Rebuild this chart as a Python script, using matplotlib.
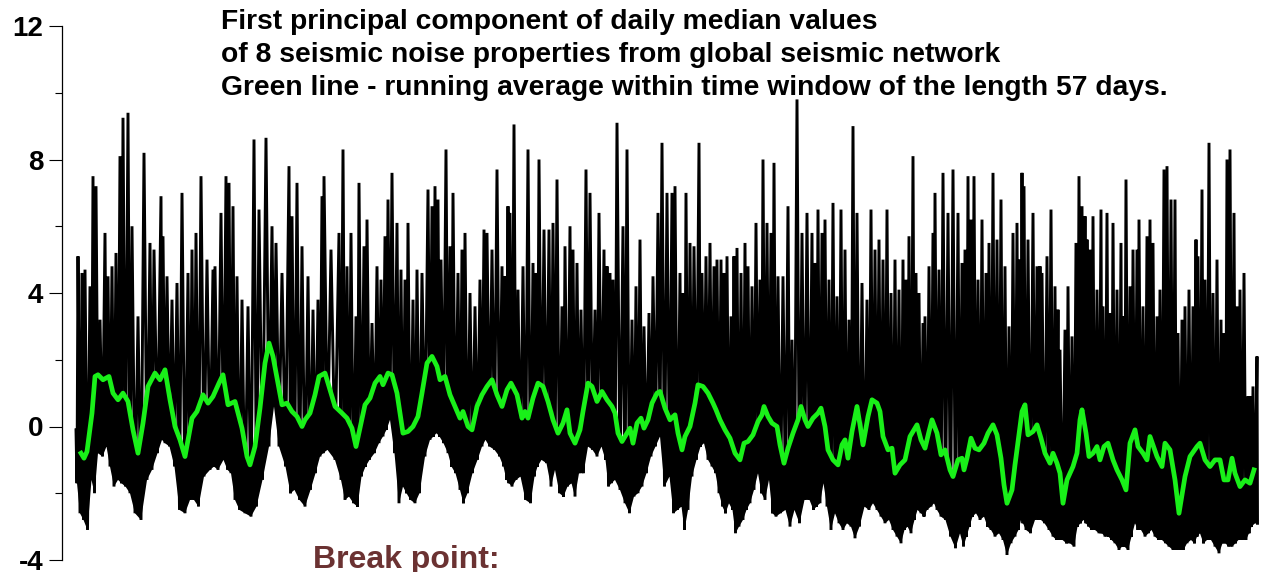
import numpy as np
import matplotlib
matplotlib.use("Agg")
import matplotlib.pyplot as plt
from matplotlib.ticker import MultipleLocator

plt.rcParams['font.family'] = ['Liberation Sans', 'DejaVu Sans']
plt.rcParams['font.weight'] = 'bold'
plt.rcParams['axes.unicode_minus'] = False

# daily PC1: for each spike, its top (hi) and the dip that follows (lo)
day = [0, 12, 36, 54, 84, 102, 120, 144, 174, 192, 216, 240, 264, 282, 312, 336, 372, 408, 444, 468,
       510, 522, 546, 576, 606, 636, 672, 696, 720, 750, 786, 822, 834, 870, 900, 918, 942, 966, 996, 1032,
       1068, 1098, 1140, 1176, 1200, 1236, 1278, 1296, 1326, 1356, 1392, 1422, 1452, 1476, 1488, 1530, 1578, 1602, 1626, 1650,
       1680, 1698, 1728, 1746, 1776, 1806, 1830, 1854, 1872,
       1896, 1926, 1950, 1974, 1992, 2022, 2046, 2076, 2112, 2136, 2154, 2172, 2190, 2220, 2244, 2262, 2292, 2316, 2334, 2364,
       2394, 2424, 2448, 2466, 2496, 2526, 2556, 2574, 2592, 2604, 2628, 2652, 2682, 2712, 2742, 2760, 2778, 2808, 2838,
       2862, 2886, 2916, 2934, 2964, 2982, 3006, 3030, 3060, 3084, 3114, 3138, 3168, 3186, 3204, 3222, 3246, 3282, 3306, 3336,
       3360, 3384, 3408, 3438, 3462, 3492, 3516, 3546, 3576, 3594, 3624, 3642, 3660, 3684, 3708, 3738, 3756, 3780, 3804, 3828, 3846,
       3870, 3888, 3906, 3930, 3948, 3966, 3990, 4014, 4032, 4056, 4080, 4104, 4122, 4146, 4170, 4188, 4212, 4242, 4272, 4296,
       4326, 4356, 4386, 4416, 4434, 4452, 4476, 4494, 4518, 4542, 4566, 4590, 4614, 4638, 4662, 4686, 4716, 4746, 4770, 4794, 4818, 4842,
       4866, 4890, 4914, 4938, 4962, 4980, 4998, 5022, 5040, 5058, 5082, 5094, 5118, 5142, 5154, 5178, 5202, 5232, 5262, 5292,
       5316, 5334, 5352, 5370, 5388, 5412, 5436, 5460, 5478, 5502, 5526, 5550, 5574, 5598, 5622, 5646, 5664, 5676, 5688, 5712,
       5742, 5766, 5784, 5796, 5826, 5850,
       5874, 5892, 5904, 5934, 5952, 5976, 6000, 6018, 6036, 6054, 6066, 6084, 6102, 6126, 6150, 6162, 6186, 6204, 6222, 6246,
       6270, 6282, 6300, 6324, 6342, 6366, 6378, 6402, 6426, 6444, 6462, 6486, 6504, 6528, 6546, 6570, 6594, 6612, 6636, 6654,
       6678, 6702, 6720, 6732, 6756, 6774, 6798, 6822, 6846, 6870, 6888, 6906, 6924, 6948, 6966, 6984, 7008, 7032, 7044, 7062, 7086]

hi = [-0.1, 5.1, 4.6, 4.7, 4.2, 7.5, 7.2, 3.2, 5.8, 4.5, 4.8, 5.2, 8.1, 9.25, 9.4, 6.0, 3.3, 8.2, 5.5, 5.3,
      6.9, 5.7, 4.5, 3.8, 4.3, 7.0, 4.6, 5.3, 5.8, 7.5, 5.0, 4.7, 4.8, 6.4, 7.5, 7.3, 6.6, 4.5, 3.8, 3.6,
      8.6, 6.5, 8.65, 6.0, 5.5, 4.6, 7.8, 6.3, 7.3, 5.4, 4.5, 3.5, 3.8, 6.9, 7.5, 5.3, 5.8, 8.3, 4.8, 5.8,
      3.3, 7.3, 5.4, 6.2, 3.1, 4.8, 4.4, 5.7, 6.8,
      7.6, 6.1, 4.7, 4.4, 6.1, 3.8, 4.7, 4.6, 7.1, 6.6, 7.2, 6.8, 5.0, 8.3, 5.4, 7.0, 4.6, 5.3, 5.8, 4.0,
      3.6, 4.4, 5.9, 5.8, 5.3, 7.7, 4.8, 4.5, 6.6, 6.4, 9.05, 4.1, 4.8, 8.3, 4.9, 4.6, 8.0, 5.9, 5.9,
      6.1, 7.4, 3.6, 5.4, 6.0, 5.3, 4.9, 3.5, 7.7, 7.0, 3.5, 6.4, 5.3, 4.8, 4.6, 4.4, 9.1, 6.0, 8.3, 3.2,
      4.2, 5.6, 3.0, 3.4, 4.5, 6.4, 8.5, 7.0, 7.0, 7.2, 4.6, 4.0, 7.0, 5.5, 5.4, 8.5, 4.6, 5.1, 5.5, 4.8, 5.0,
      5.0, 4.6, 5.1, 3.3, 5.1, 5.35, 4.6, 5.5, 4.8, 4.2, 6.1, 4.4, 8.0, 6.1, 5.8, 7.9, 4.5, 4.5, 6.6, 2.6,
      9.8, 5.8, 6.4, 5.8, 4.9, 6.5, 5.8, 6.2, 4.4, 6.7, 3.9, 6.5, 5.3, 3.2, 9.0, 6.4, 4.3, 3.8, 6.5, 5.3, 5.6, 5.0,
      6.5, 4.0, 5.0, 4.1, 5.0, 4.4, 5.7, 8.1, 4.6, 4.0, 3.1, 3.3, 4.8, 5.8, 7.0, 4.7, 7.6, 6.4, 7.7, 6.4,
      4.9, 5.3, 7.5, 6.2, 7.5, 4.4, 6.2, 4.6, 5.5, 7.6, 5.6, 6.8, 4.8, 3.0, 5.8, 6.1, 5.0, 7.6, 7.2, 5.6,
      6.4, 4.8, 4.8, 4.6, 5.1, 6.5,
      4.2, 3.5, 2.3, 2.9, 4.2, 2.7, 5.5, 7.5, 6.6, 6.3, 5.6, 5.3, 6.3, 4.1, 6.5, 3.6, 6.4, 3.4, 6.1, 4.1,
      5.5, 3.3, 7.4, 4.2, 5.3, 5.3, 6.2, 3.6, 5.7, 6.2, 5.5, 3.3, 4.1, 7.7, 7.8, 6.8, 6.8, 2.8, 3.2, 3.6,
      4.1, 3.6, 5.6, 5.1, 7.1, 4.4, 8.5, 4.0, 5.0, 3.2, 2.8, 8.0, 8.3, 6.4, 3.6, 4.1, 4.6, 0.9, 0.9, 1.2, 2.1]

lo = [-1.7, -2.6, -2.8, -3.1, -1.6, -2.0, -0.8, -0.9, -0.6, -1.2, -1.8, -1.6, -1.7, -1.8, -2.0, -2.6, -2.8, -1.6, -1.3, -0.8,
      -0.4, -0.5, -0.6, -1.2, -2.5, -2.6, -2.2, -2.2, -2.4, -1.5, -1.3, -1.2, -1.3, -1.0, -1.3, -1.4, -2.2, -2.5, -2.6, -2.7,
      -2.4, -1.6, -0.6, 0.6, -0.6, -1.2, -2.0, -1.9, -2.2, -2.4, -1.9, -1.4, -0.9, -0.8, -0.7, -1.0, -1.6, -2.2, -2.1, -2.3,
      -2.4, -1.5, -1.2, -1.0, -0.8, -0.5, -0.3, -0.1, 0.2,
      -0.8, -2.3, -1.8, -2.0, -2.2, -2.3, -2.0, -0.9, -0.4, -0.3, -0.2, -0.3, -0.5, -0.8, -1.2, -1.4, -1.9, -2.3, -2.0, -1.4,
      -1.0, -0.6, -0.4, -0.6, -0.7, -0.9, -1.2, -1.6, -1.7, -1.8, -1.6, -1.5, -2.2, -2.3, -1.5, -1.2, -1.0, -1.1, -1.8,
      -1.3, -2.0, -2.1, -1.8, -1.7, -2.1, -1.4, -1.4, -0.6, -0.7, -0.9, -0.6, -1.0, -1.8, -1.7, -1.6, -1.9, -2.3, -2.6, -2.1,
      -2.0, -1.8, -1.4, -0.9, -0.6, -0.3, -1.8, -1.5, -2.6, -2.5, -2.4, -3.1, -2.5, -1.5, -1.0, -0.6, -0.5, -1.0, -1.2, -1.4, -2.0,
      -2.4, -2.6, -2.3, -2.5, -3.2, -3.0, -2.8, -2.5, -2.3, -1.9, -1.4, -2.0, -2.2, -1.6, -2.6, -2.7, -2.6, -2.5, -3.0, -2.5,
      -2.9, -2.2, -2.2, -2.5, -2.4, -2.3, -1.7, -2.4, -3.1, -2.6, -2.9, -3.1, -2.9, -3.0, -3.35, -3.0, -2.4, -2.5, -2.3, -2.5, -2.7, -2.9,
      -2.8, -3.1, -3.3, -3.5, -3.1, -3.0, -3.2, -2.8, -2.5, -2.6, -2.7, -2.5, -2.4, -2.3, -2.5, -2.7, -2.8, -3.3, -3.65, -3.2,
      -3.6, -3.3, -3.0, -2.7, -2.6, -2.8, -2.7, -3.0, -3.1, -3.3, -3.2, -3.4, -3.85, -3.5, -3.3, -3.1, -2.8, -2.9, -3.1, -3.2,
      -2.8, -2.8, -2.8, -2.9, -3.1, -3.3,
      -3.4, -3.4, -3.4, -3.5, -3.5, -3.6, -3.0, -2.9, -2.8, -2.9, -3.0, -3.1, -3.1, -3.2, -3.2, -3.3, -3.3, -3.4, -3.5, -3.7,
      -3.6, -3.6, -3.7, -3.3, -2.9, -3.1, -3.1, -3.3, -3.2, -3.1, -3.3, -3.4, -3.4, -3.5, -3.6, -3.7, -3.7, -3.7, -3.7, -3.5,
      -3.4, -3.5, -3.3, -3.2, -3.5, -3.4, -3.4, -3.6, -3.8, -3.5, -3.5, -3.6, -3.6, -3.5, -3.4, -3.4, -3.4, -3.2, -3.0, -2.9, -2.9]

# 57-day running average (green)
avg_day = [30, 48, 66, 96, 114, 132, 162, 198, 222, 252, 282, 312, 342, 372, 402, 432, 474, 504, 534, 564,
           594, 624, 654, 696, 726, 762, 792, 822, 858, 882, 912, 954, 996, 1026, 1044, 1074, 1104, 1134, 1158, 1182,
           1212, 1236, 1266, 1296, 1326, 1356, 1374, 1404, 1434, 1458, 1494, 1524, 1554, 1596, 1626, 1656, 1680, 1704, 1734, 1764,
           1794, 1824, 1842, 1872,
           1896, 1926, 1944, 1962, 1992, 2022, 2052, 2076, 2106, 2136, 2166, 2184, 2214, 2244, 2274, 2304, 2322, 2352, 2376, 2406,
           2436, 2466, 2496, 2526, 2556, 2586, 2610, 2646, 2676, 2694, 2712, 2742, 2772, 2802, 2832,
           2862, 2892, 2922, 2946, 2964, 2994, 3024, 3042, 3072, 3096, 3126, 3156, 3186, 3216, 3234, 3252, 3276, 3306, 3324, 3342,
           3366, 3390, 3408, 3432, 3456, 3486, 3504, 3534, 3564, 3594, 3612, 3636, 3654, 3684, 3714, 3732, 3762, 3792, 3822, 3840, 3864,
           3894, 3924, 3954, 3984, 4008, 4032, 4062, 4092, 4116, 4128, 4152, 4176, 4206, 4224, 4248, 4272, 4302, 4332, 4350, 4374,
           4392, 4422, 4452, 4470, 4494, 4512, 4542, 4572, 4596, 4614, 4632, 4656, 4686, 4704, 4722, 4752, 4776, 4806, 4824, 4842,
           4872, 4896, 4914, 4944, 4974, 5004, 5022, 5046, 5070, 5094, 5118, 5136, 5166, 5190, 5214, 5244, 5262, 5292, 5316, 5328,
           5346, 5370, 5394, 5418, 5448, 5472, 5502, 5526, 5550, 5568, 5586, 5616, 5634, 5658, 5676, 5694, 5712, 5742, 5766, 5790,
           5814, 5844, 5862,
           5886, 5904, 5922, 5946, 5964, 5982, 6006, 6024, 6036, 6060, 6078, 6102, 6126, 6144, 6168, 6192, 6222, 6246, 6276, 6300,
           6324, 6354, 6372, 6402, 6426, 6444, 6486, 6516, 6534, 6564, 6594, 6618, 6654, 6684, 6726, 6744, 6774, 6804, 6834, 6864,
           6888, 6912, 6936, 6954, 6984, 7014, 7044, 7068]

avg = [-0.8, -0.95, -0.75, 0.4, 1.5, 1.55, 1.4, 1.5, 1.0, 0.8, 1.0, 0.75, -0.1, -0.8, 0.1, 1.2, 1.6, 1.4, 1.7, 0.8,
       0.0, -0.4, -0.9, 0.25, 0.45, 0.95, 0.7, 0.9, 1.3, 1.55, 0.65, 0.75, -0.05, -0.9, -1.15, -0.6, 0.55, 1.9, 2.5, 2.1,
       1.3, 0.65, 0.7, 0.45, 0.3, 0.0, 0.2, 0.4, 0.95, 1.5, 1.6, 1.1, 0.6, 0.4, 0.25, -0.05, -0.6, -0.05, 0.65, 0.85,
       1.3, 1.5, 1.25, 1.6,
       1.55, 1.0, 0.4, -0.2, -0.15, 0.0, 0.3, 1.0, 1.9, 2.1, 1.8, 1.4, 1.5, 0.95, 0.6, 0.25, 0.45, 0.0, -0.1, 0.6,
       0.95, 1.2, 1.4, 0.95, 0.6, 1.1, 1.3, 0.95, 0.25, 0.45, 0.25, 0.85, 1.3, 1.2, 0.75,
       0.2, -0.2, 0.1, 0.5, -0.2, -0.5, -0.1, 0.45, 1.3, 1.2, 0.75, 1.05, 0.8, 0.6, 0.4, -0.2, -0.45, -0.2, -0.05, -0.5,
       0.1, 0.25, -0.05, 0.2, 0.7, 1.0, 1.05, 0.55, 0.2, 0.35, -0.2, -0.7, -0.3, 0.0, 0.7, 1.25, 1.2, 1.0, 0.7, 0.5, 0.2,
       -0.1, -0.35, -0.8, -1.0, -0.5, -0.45, -0.25, 0.15, 0.35, 0.6, 0.3, 0.1, 0.0, -0.55, -1.1, -0.65, -0.2, 0.2, 0.6, 0.2,
       0.0, 0.25, 0.4, 0.55, 0.0, -0.7, -1.0, -1.15, -0.55, -0.4, -0.95, -0.15, 0.6, 0.05, -0.55, 0.3, 0.8, 0.7, 0.45, -0.3,
       -0.7, -0.65, -1.4, -1.15, -1.0, -0.3, -0.15, 0.05, -0.4, -0.65, -0.15, 0.2, -0.2, -0.85, -0.7, -1.3, -1.5, -1.0, -0.95, -1.3,
       -0.95, -0.35, -0.65, -0.7, -0.5, -0.2, 0.05, -0.25, -0.95, -1.75, -2.3, -1.9, -1.15, -0.25, 0.45, 0.65, -0.25, -0.15, 0.05, -0.35,
       -0.8, -1.1, -0.8,
       -1.1, -1.4, -2.3, -1.6, -1.4, -1.2, -0.8, 0.2, 0.5, -0.2, -0.9, -0.8, -0.6, -1.0, -0.6, -0.5, -1.0, -1.3, -1.6, -1.9,
       -0.5, -0.1, -0.6, -0.8, -1.0, -0.3, -0.9, -1.2, -0.5, -0.7, -1.6, -2.6, -1.5, -0.9, -0.6, -0.5, -1.0, -1.2, -1.0, -1.0,
       -1.6, -1.6, -0.95, -1.4, -1.8, -1.6, -1.7, -1.3]

title_lines = ["First principal component of daily median values",
               "of 8 seismic noise properties from global seismic network",
               "Green line - running average within time window of the length 57 days."]

# interleave spike tops and the dips between them
day = np.array(day, dtype=float)
gap = np.diff(np.append(day, day[-1] + 6))
xs = np.empty(2 * len(day))
ys = np.empty(2 * len(day))
xs[0::2] = day
xs[1::2] = day + gap / 2
ys[0::2] = hi
ys[1::2] = lo

W, H = 1270, 572
fig = plt.figure(figsize=(W / 100, H / 100), dpi=100)
ax = fig.add_axes([62 / W, 12 / H, (1262 - 62) / W, 534 / H])

# dense part of the daily cloud: everything between the dips and the running mean is inked
band_x = np.concatenate([xs[1::2], np.array(avg_day)[::-1]])
band_y = np.concatenate([lo, np.array(avg)[::-1]])
ax.fill(band_x, band_y, color='black', lw=0)
ax.plot(xs, ys, color='black', lw=2.1, solid_joinstyle='miter')
ax.plot(avg_day, avg, color='#19f019', lw=3.4)

ax.set_xlim(-84, 7116)
ax.set_ylim(-4, 12)
ax.yaxis.set_major_locator(MultipleLocator(4))
ax.yaxis.set_minor_locator(MultipleLocator(2))
ax.tick_params(axis='y', which='major', length=9.5, width=0.8, labelsize=20, pad=4)
ax.tick_params(axis='y', which='minor', length=5, width=0.8)
for lab in ax.get_yticklabels():
    lab.set_fontweight('bold')
ax.set_xticks([])
for s in ['top', 'right', 'bottom']:
    ax.spines[s].set_visible(False)
ax.spines['left'].set_linewidth(0.9)

for i, line in enumerate(title_lines):
    fig.text(221 / W, 1 - (29 + 33 * i) / H, line, fontsize=20.3, fontweight='bold',
             va='baseline', ha='left')

fig.text(313 / W, 1 - 568 / H, "Break point:", fontsize=23, fontweight='bold',
         color='#6b3232', va='baseline', ha='left')

fig.savefig('out.png', dpi=100)
